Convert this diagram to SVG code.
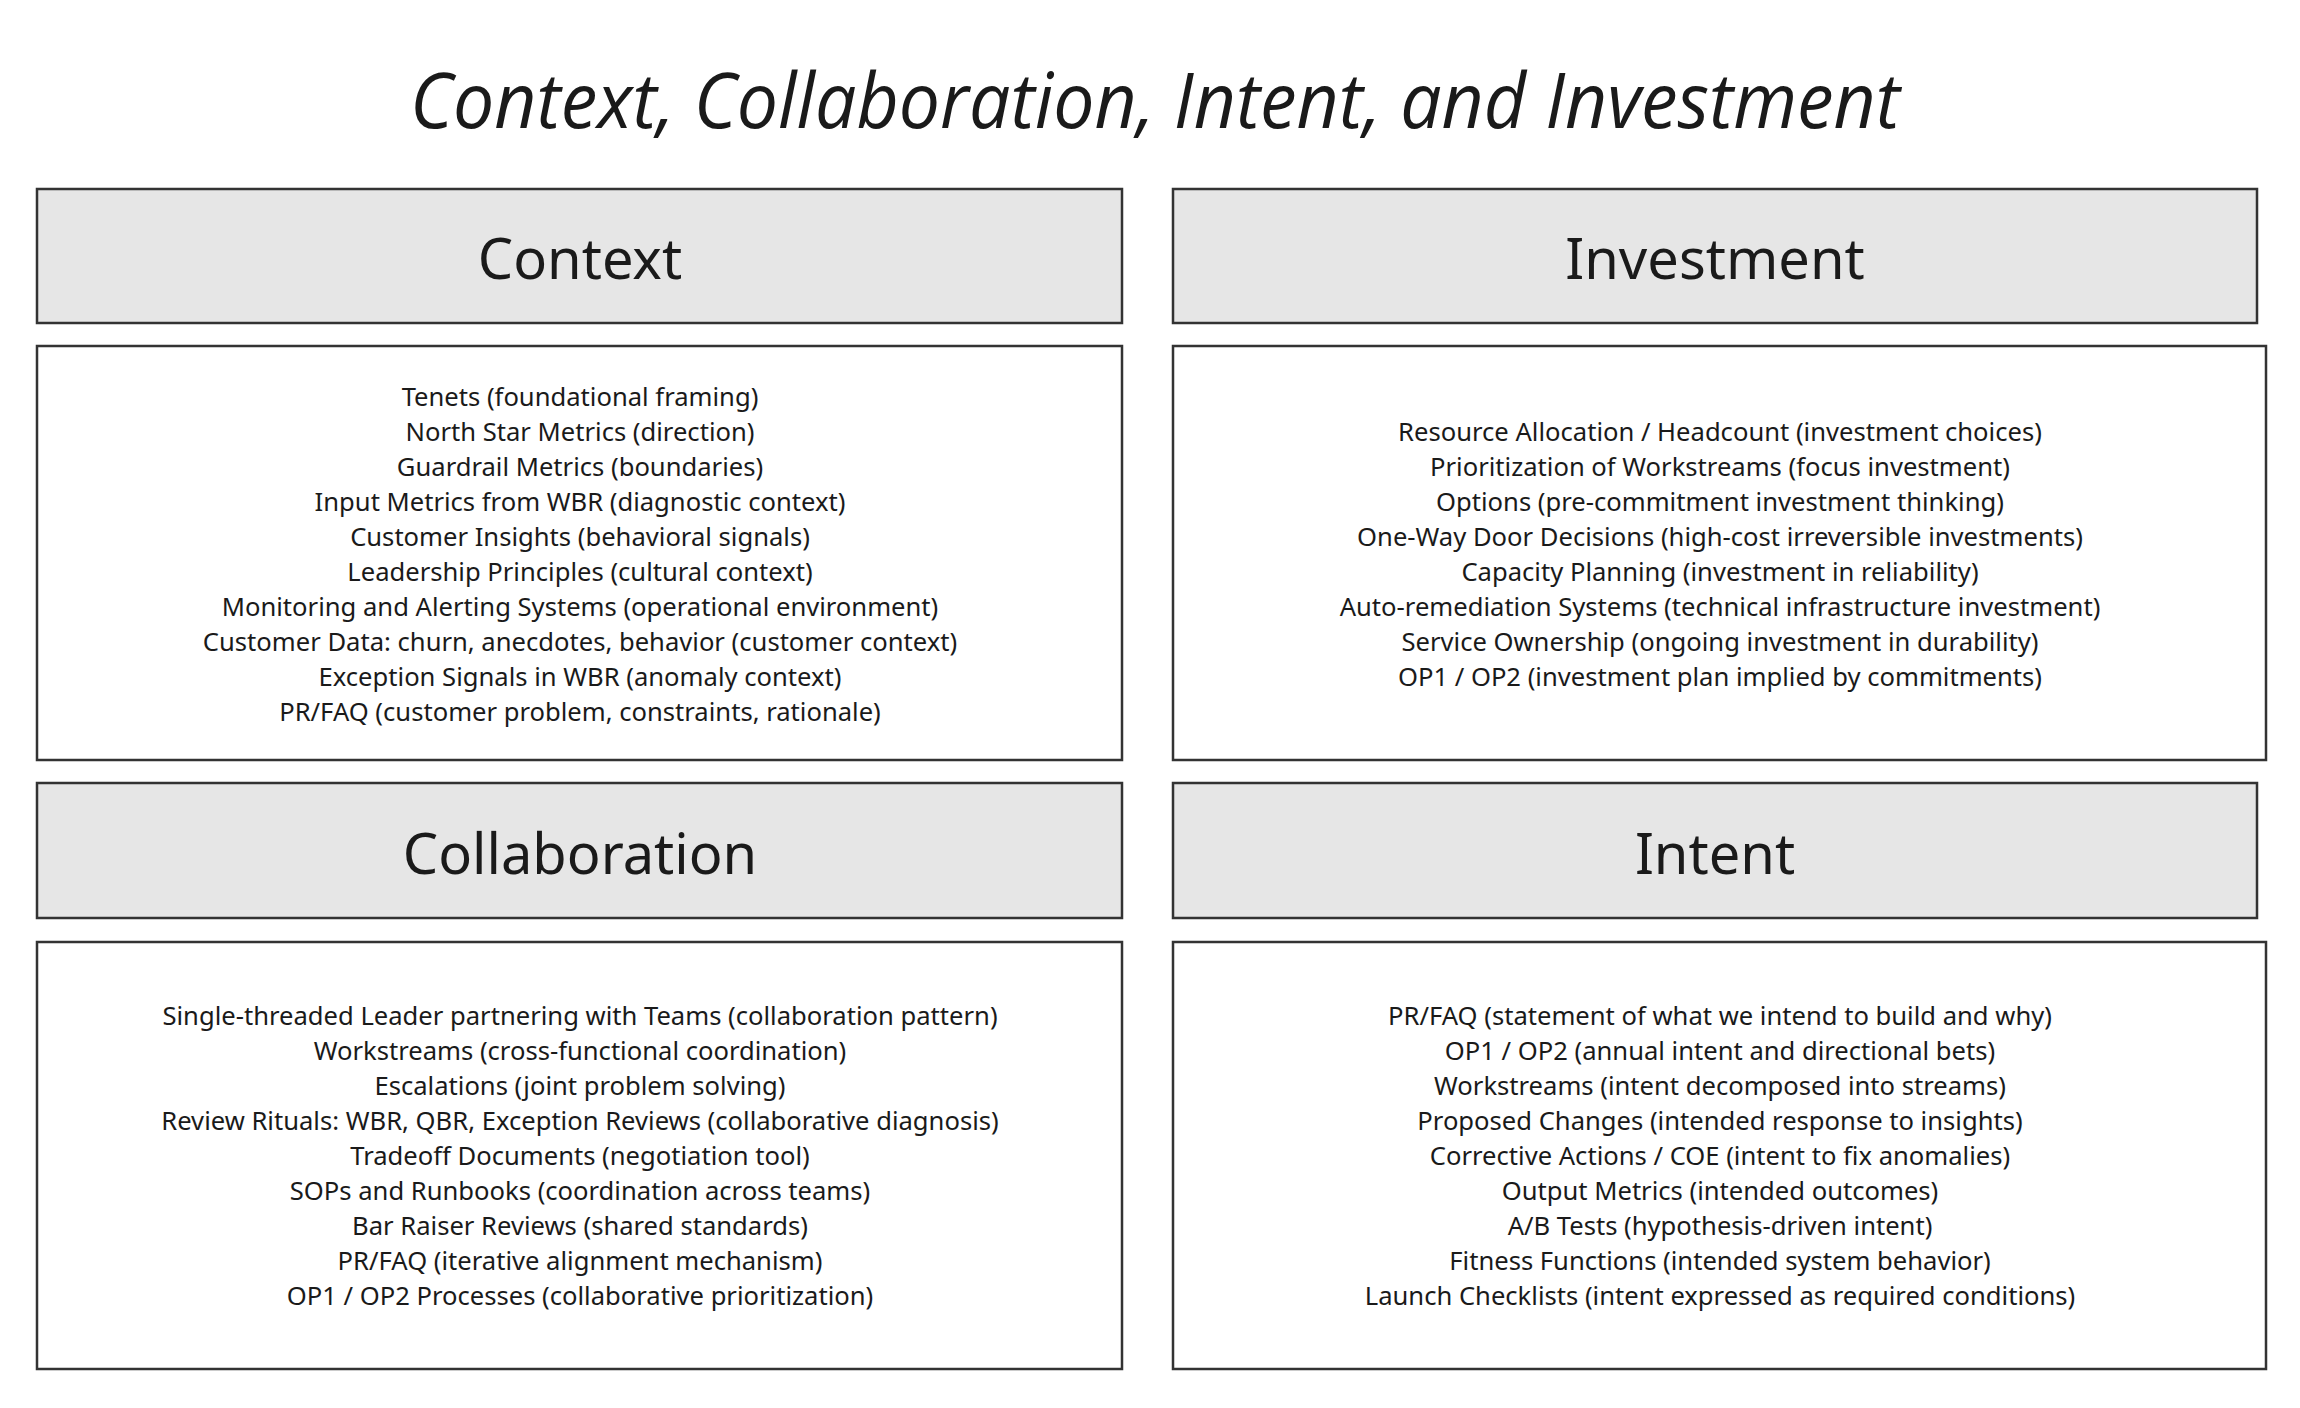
<svg xmlns="http://www.w3.org/2000/svg" width="2300" height="1408" viewBox="0 0 2300 1408">
<style>
.bg{fill:#ffffff}
.hdr{fill:#e6e6e6;stroke:#333333;stroke-width:2.5}
.body{fill:#ffffff;stroke:#333333;stroke-width:2.5}
.title{font-family:"Open Sans","Noto Sans",sans-serif;font-style:italic;font-size:76px;fill:#1a1a1a;text-anchor:middle}
.htxt{font-family:"Noto Sans","Open Sans",sans-serif;font-size:56px;fill:#1a1a1a;text-anchor:middle}
.btxt{font-family:"Noto Sans","Open Sans",sans-serif;font-size:25.6px;fill:#1a1a1a;text-anchor:middle}
</style>
<rect class="bg" x="0" y="0" width="2300" height="1408"/>
<text class="title" x="1155" y="128" textLength="1490" lengthAdjust="spacingAndGlyphs">Context, Collaboration, Intent, and Investment</text>

<g id="context-header">
<rect class="hdr" x="37" y="189" width="1085" height="134"/>
<text class="htxt" x="580" y="279">Context</text>
</g>
<g id="context-body">
<rect class="body" x="37" y="346" width="1085" height="414"/>
<text class="btxt" x="580" y="406">Tenets (foundational framing)</text>
<text class="btxt" x="580" y="441">North Star Metrics (direction)</text>
<text class="btxt" x="580" y="476">Guardrail Metrics (boundaries)</text>
<text class="btxt" x="580" y="511">Input Metrics from WBR (diagnostic context)</text>
<text class="btxt" x="580" y="546">Customer Insights (behavioral signals)</text>
<text class="btxt" x="580" y="581">Leadership Principles (cultural context)</text>
<text class="btxt" x="580" y="616">Monitoring and Alerting Systems (operational environment)</text>
<text class="btxt" x="580" y="651">Customer Data: churn, anecdotes, behavior (customer context)</text>
<text class="btxt" x="580" y="686">Exception Signals in WBR (anomaly context)</text>
<text class="btxt" x="580" y="721">PR/FAQ (customer problem, constraints, rationale)</text>
</g>

<g id="investment-header">
<rect class="hdr" x="1173" y="189" width="1084" height="134"/>
<text class="htxt" x="1715" y="279">Investment</text>
</g>
<g id="investment-body">
<rect class="body" x="1173" y="346" width="1093" height="414"/>
<text class="btxt" x="1720" y="441">Resource Allocation / Headcount (investment choices)</text>
<text class="btxt" x="1720" y="476">Prioritization of Workstreams (focus investment)</text>
<text class="btxt" x="1720" y="511">Options (pre-commitment investment thinking)</text>
<text class="btxt" x="1720" y="546">One-Way Door Decisions (high-cost irreversible investments)</text>
<text class="btxt" x="1720" y="581">Capacity Planning (investment in reliability)</text>
<text class="btxt" x="1720" y="616">Auto-remediation Systems (technical infrastructure investment)</text>
<text class="btxt" x="1720" y="651">Service Ownership (ongoing investment in durability)</text>
<text class="btxt" x="1720" y="686">OP1 / OP2 (investment plan implied by commitments)</text>
</g>

<g id="collaboration-header">
<rect class="hdr" x="37" y="783" width="1085" height="135"/>
<text class="htxt" x="580" y="874">Collaboration</text>
</g>
<g id="collaboration-body">
<rect class="body" x="37" y="942" width="1085" height="427"/>
<text class="btxt" x="580" y="1025">Single-threaded Leader partnering with Teams (collaboration pattern)</text>
<text class="btxt" x="580" y="1060">Workstreams (cross-functional coordination)</text>
<text class="btxt" x="580" y="1095">Escalations (joint problem solving)</text>
<text class="btxt" x="580" y="1130">Review Rituals: WBR, QBR, Exception Reviews (collaborative diagnosis)</text>
<text class="btxt" x="580" y="1165">Tradeoff Documents (negotiation tool)</text>
<text class="btxt" x="580" y="1200">SOPs and Runbooks (coordination across teams)</text>
<text class="btxt" x="580" y="1235">Bar Raiser Reviews (shared standards)</text>
<text class="btxt" x="580" y="1270">PR/FAQ (iterative alignment mechanism)</text>
<text class="btxt" x="580" y="1305">OP1 / OP2 Processes (collaborative prioritization)</text>
</g>

<g id="intent-header">
<rect class="hdr" x="1173" y="783" width="1084" height="135"/>
<text class="htxt" x="1715" y="874">Intent</text>
</g>
<g id="intent-body">
<rect class="body" x="1173" y="942" width="1093" height="427"/>
<text class="btxt" x="1720" y="1025">PR/FAQ (statement of what we intend to build and why)</text>
<text class="btxt" x="1720" y="1060">OP1 / OP2 (annual intent and directional bets)</text>
<text class="btxt" x="1720" y="1095">Workstreams (intent decomposed into streams)</text>
<text class="btxt" x="1720" y="1130">Proposed Changes (intended response to insights)</text>
<text class="btxt" x="1720" y="1165">Corrective Actions / COE (intent to fix anomalies)</text>
<text class="btxt" x="1720" y="1200">Output Metrics (intended outcomes)</text>
<text class="btxt" x="1720" y="1235">A/B Tests (hypothesis-driven intent)</text>
<text class="btxt" x="1720" y="1270">Fitness Functions (intended system behavior)</text>
<text class="btxt" x="1720" y="1305">Launch Checklists (intent expressed as required conditions)</text>
</g>
<g id="connectors"></g>
</svg>
